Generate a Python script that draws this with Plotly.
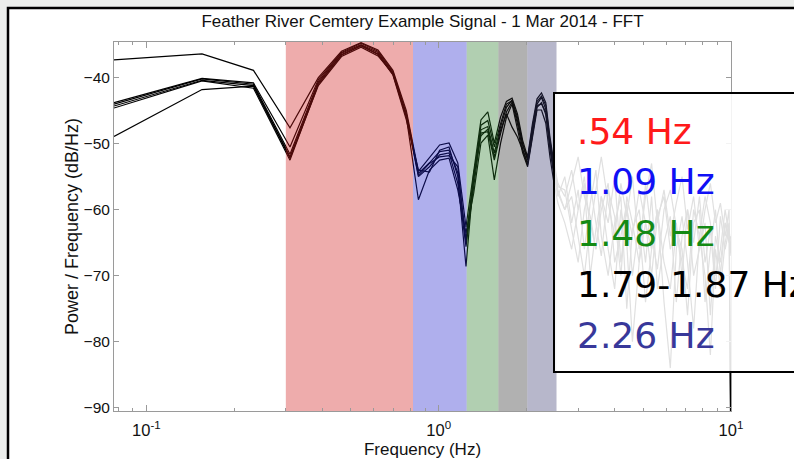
import plotly.graph_objects as go
import math

# ---------------- data ----------------
freq_hz = [0.0775, 0.155, 0.2325, 0.31, 0.3875, 0.465, 0.5425, 0.62, 0.6975, 0.775,
           0.8525, 0.93, 1.0075, 1.085, 1.1625, 1.24, 1.3175, 1.395, 1.4725, 1.55,
           1.6275, 1.705, 1.7825, 1.86, 1.9375, 2.015, 2.0925, 2.17, 2.2475, 2.325,
           2.4025, 2.48, 2.5575,
           2.7, 2.85, 3.0, 3.15, 3.3, 3.45, 3.6, 3.8, 4.0, 4.2,
           4.4, 4.6, 4.85, 5.1, 5.35, 5.6, 5.9, 6.2, 6.5, 6.8,
           7.1, 7.45, 7.8, 8.15, 8.5, 8.85, 9.2, 9.55, 9.85, 10.0]

psd_1 = [-37.3, -36.4, -38.9, -47.6, -40.0, -36.0, -34.7, -35.8, -38.9, -45.0,
         -54.2, -52.2, -50.2, -49.9, -52.9, -62.6, -54.0, -46.4, -45.2, -49.9,
         -46.0, -43.6, -43.1, -45.5, -49.5, -52.0, -47.0, -43.2, -42.3, -43.8,
         -49.0, -53.0, -56.0,
         -58, -54, -60, -55, -63, -57, -52, -59, -64, -56,
         -61, -55, -66, -58, -53, -62, -57, -64, -59, -55,
         -63, -58, -66, -60, -56, -62, -59, -64, -60, -100]
psd_2 = [-43.8, -40.1, -40.8, -50.5, -40.3, -36.2, -34.8, -36.0, -39.1, -45.4,
         -54.5, -52.9, -51.2, -51.0, -54.4, -64.6, -55.5, -47.9, -47.4, -51.4,
         -47.5, -44.5, -43.4, -46.5, -50.2, -52.5, -48.0, -44.0, -43.0, -44.8,
         -50.0, -54.0, -57.0,
         -60, -56, -52, -58, -61, -66, -58, -62, -55, -68,
         -60, -64, -57, -62, -70, -61, -58, -66, -62, -70,
         -60, -65, -58, -68, -63, -72, -61, -66, -63, -66]
psd_3 = [-44.0, -40.2, -41.0, -51.6, -40.6, -36.3, -35.0, -36.2, -39.3, -45.8,
         -55.0, -53.5, -51.7, -51.4, -56.0, -65.6, -56.5, -48.4, -48.2, -52.5,
         -48.5, -45.2, -43.7, -47.0, -50.8, -53.0, -48.5, -44.5, -43.8, -45.6,
         -50.5, -54.5, -58.0,
         -55, -62, -57, -66, -59, -54, -64, -70, -62, -58,
         -75, -63, -60, -68, -58, -72, -65, -61, -74, -64,
         -60, -70, -66, -62, -76, -64, -68, -62, -65, -64]
psd_4 = [-44.3, -40.4, -41.2, -52.0, -40.8, -36.5, -35.1, -36.4, -39.5, -46.0,
         -58.5, -54.0, -52.5, -52.2, -57.0, -63.5, -57.5, -49.9, -48.7, -55.5,
         -50.0, -46.0, -44.0, -48.0, -51.4, -53.5, -49.4, -44.9, -44.9, -46.9,
         -52.0, -56.0, -59.0,
         -62, -66, -60, -56, -70, -63, -58, -66, -72, -60,
         -65, -80, -68, -62, -66, -60, -74, -84, -66, -61,
         -68, -78, -64, -70, -82, -66, -72, -65, -62, -100]
psd_5 = [-44.6, -40.5, -41.6, -52.5, -41.0, -36.6, -35.2, -36.5, -39.6, -46.4,
         -54.0, -54.3, -51.0, -50.5, -55.0, -68.6, -55.0, -47.2, -46.5, -50.5,
         -47.0, -44.0, -43.5, -46.0, -50.0, -52.3, -47.5, -43.6, -42.8, -44.2,
         -49.5, -53.5, -56.5,
         -57, -63, -68, -60, -56, -62, -67, -57, -61, -70,
         -58, -62, -68, -56, -64, -69, -60, -57, -63, -68,
         -72, -60, -64, -58, -62, -70, -66, -60, -64, -67]
psd_6 = [-48.9, -41.8, -41.3, -52.2, -41.2, -36.8, -35.4, -36.7, -39.4, -45.6,
         -54.8, -53.0, -52.0, -51.8, -53.5, -65.0, -54.5, -48.8, -47.8, -52.0,
         -48.0, -45.5, -47.5, -49.0, -51.0, -53.2, -48.8, -44.2, -44.0, -45.2,
         -50.8, -55.0, -57.5,
         -60, -58, -64, -70, -62, -66, -60, -56, -68, -64,
         -59, -70, -62, -74, -66, -60, -68, -72, -63, -66,
         -76, -62, -60, -74, -66, -60, -70, -62, -64, -66]
series = [psd_1, psd_2, psd_3, psd_4, psd_5, psd_6]

# highlighted frequency bands (Hz)
band_lo = [0.30, 0.817, 1.247, 1.60, 2.01]
band_hi = [0.817, 1.247, 1.60, 2.01, 2.53]
band_colors = ["rgba(209,25,25,0.36)", "rgba(32,32,206,0.36)", "rgba(38,121,38,0.36)",
               "rgba(38,38,38,0.36)", "rgba(55,55,112,0.36)"]

legend_labels = [".54 Hz", "1.09 Hz", "1.48 Hz", "1.79-1.87 Hz", "2.26 Hz"]
legend_colors = ["#FF1A1A", "#1010F5", "#148A14", "#000000", "#38389A"]

y_ticks = [-90, -80, -70, -60, -50, -40]
y_range = [-90.5, -34.6]
x_major = [0.1, 1, 10]
x_major_text = ["10<sup>-1</sup>", "10<sup>0</sup>", "10<sup>1</sup>"]
x_minor = [0.08, 0.09, 0.2, 0.3, 0.4, 0.5, 0.6, 0.7, 0.8, 0.9,
           2, 3, 4, 5, 6, 7, 8, 9]

# ---------------- figure ----------------
fig = go.Figure()

for s in series:
    fig.add_trace(go.Scatter(x=freq_hz, y=s, mode="lines",
                             line=dict(color="black", width=1.2),
                             showlegend=False, hoverinfo="skip"))

for lo, hi, col in zip(band_lo, band_hi, band_colors):
    fig.add_trace(go.Scatter(x=[lo, hi, hi, lo, lo],
                             y=[y_range[0], y_range[0], y_range[1], y_range[1], y_range[0]],
                             mode="lines", line=dict(width=0), fill="toself",
                             fillcolor=col, showlegend=False, hoverinfo="skip"))

W, H = 794, 459
L, R, T, B = 114, 63, 42, 48
pw, ph = W - L - R, H - T - B

def px_x(p):
    return (p - L) / pw

def px_y(p):
    return (H - B - p) / ph

axis_col = "#9a9a9a"
font_fam = "Liberation Sans, Arial"
tick_font = dict(family=font_fam, size=15.5, color="#111111")

fig.update_layout(
    width=W, height=H,
    margin=dict(l=L, r=R, t=T, b=B),
    paper_bgcolor="#ECEEEC",
    plot_bgcolor="rgba(0,0,0,0)",
    title=dict(text="Feather River Cemtery Example Signal - 1 Mar 2014 - FFT",
               x=0.5, xref="paper", xanchor="center",
               y=1 - 21.5 / H, yanchor="middle",
               font=dict(family=font_fam, size=17, color="#111111")),
    xaxis=dict(type="log", range=[math.log10(freq_hz[0]), 1],
               tickvals=x_major, ticktext=x_major_text, automargin=False,
               ticks="inside", ticklen=6, tickcolor=axis_col,
               ticklabelstandoff=4,
               minor=dict(tickvals=x_minor, ticks="inside", ticklen=3, tickcolor=axis_col),
               showline=True, linecolor=axis_col, linewidth=1, mirror="ticks",
               showgrid=False, zeroline=False,
               tickfont=dict(family=font_fam, size=16.5, color="#111111"),
               title=dict(text="Frequency (Hz)", standoff=7,
                          font=dict(family=font_fam, size=17, color="#111111"))),
    yaxis=dict(range=y_range, tickvals=y_ticks, automargin=False,
               ticks="inside", ticklen=5, tickcolor=axis_col,
               showline=True, linecolor=axis_col, linewidth=1, mirror="ticks",
               showgrid=False, zeroline=False, tickfont=tick_font,
               title=dict(text="Power / Frequency (dB/Hz)", standoff=0,
                          font=dict(family=font_fam, size=18, color="#111111"))),
    shapes=[
        # white slide panel
        dict(type="rect", xref="paper", yref="paper", layer="below",
             x0=px_x(8), x1=px_x(820), y0=px_y(480), y1=px_y(8),
             fillcolor="white", line=dict(color="black", width=2.5)),
        # semi-transparent label box
        dict(type="rect", xref="paper", yref="paper", layer="above",
             x0=px_x(554), x1=px_x(830), y0=px_y(372), y1=px_y(93),
             fillcolor="rgba(255,255,255,0.88)", line=dict(color="black", width=2)),
    ],
)

centers = [131, 182, 233, 284, 335]
for txt, col, c in zip(legend_labels, legend_colors, centers):
    fig.add_annotation(text=txt, xref="paper", yref="paper",
                       x=px_x(575), y=px_y(c), xanchor="left", yanchor="middle",
                       showarrow=False,
                       font=dict(family="DejaVu Sans", size=36, color=col))

fig.write_html("out.html",
               config={"displayModeBar": False},
               post_script="document.body.style.margin='0';document.body.style.overflow='hidden';")
